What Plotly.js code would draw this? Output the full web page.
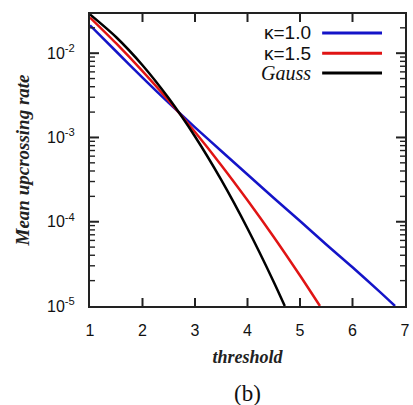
<!DOCTYPE html>
<html>
<head>
<meta charset="utf-8">
<script src="https://cdn.plot.ly/plotly-3.0.1.min.js"></script>
<style>html,body{margin:0;padding:0;background:#fff;}#chart{width:413px;height:405px;}</style>
</head>
<body>
<div id="chart"></div>
<script>
// threshold values and mean upcrossing rates
var xKappa10 = [1, 1.5, 2, 2.5, 3, 3.5, 4, 4.5, 5, 5.5, 6, 6.5, 6.81];
var yKappa10 = [0.0214, 0.01047, 0.00513, 0.00257, 0.00132, 6.9e-4, 3.63e-4, 1.91e-4, 1.02e-4, 5.37e-5, 2.88e-5, 1.51e-5, 1.0e-5];

var xKappa15 = [1, 1.5, 2, 2.5, 3, 3.5, 4, 4.5, 5, 5.38];
var yKappa15 = [0.0265, 0.01304, 0.00612, 0.00273, 0.001159, 4.69e-4, 1.80e-4, 6.6e-5, 2.30e-5, 1.0e-5];

var xGauss = [1, 1.5, 2, 2.5, 3, 3.5, 4, 4.5, 4.71];
var yGauss = [0.0288, 0.01545, 0.00719, 0.00291, 0.001025, 3.13e-4, 8.3e-5, 1.93e-5, 1.0e-5];

var seriesNames = ['κ=1.0', 'κ=1.5', 'Gauss'];
var seriesColors = ['#1414c8', '#e01414', '#000000'];
var xTickVals = [1, 2, 3, 4, 5, 6, 7];
var yMajorVals = [1e-5, 1e-4, 1e-3, 1e-2];
var yMajorText = ['10<sup>-5</sup>', '10<sup>-4</sup>', '10<sup>-3</sup>', '10<sup>-2</sup>'];

var W = 413, H = 405, M = {l: 90, r: 8, t: 14, b: 99};
var xRange = [1, 7];
var yRange = [-5, -1.535];
var yMinorVals = [];
yMajorVals.forEach(function (d) {
  for (var k = 2; k <= 9; k++) {
    var v = k * d;
    if (Math.log10(v) <= yRange[1]) yMinorVals.push(v);
  }
});

var sans = 'Liberation Sans, Arial, sans-serif';
var serif = 'Liberation Serif, Times New Roman, serif';
var axisCol = '#222222';

var xs = [xKappa10, xKappa15, xGauss];
var ys = [yKappa10, yKappa15, yGauss];
var traces = xs.map(function (x, i) {
  return {
    x: x, y: ys[i], type: 'scatter', mode: 'lines', name: seriesNames[i],
    line: {color: seriesColors[i], width: 2.5, shape: 'spline', smoothing: 0.8},
    showlegend: false
  };
});

// inside tick marks on all four sides, as line traces built from the tick arrays
var pxPerX = (W - M.l - M.r) / (xRange[1] - xRange[0]);
var pxPerDec = (H - M.t - M.b) / (yRange[1] - yRange[0]);
function xLen(px) { return px / pxPerX; }
function yFac(px) { return Math.pow(10, px / pxPerDec); }
var yLo = Math.pow(10, yRange[0]), yHi = Math.pow(10, yRange[1]);

function tickTrace(tx, ty, w) {
  return {x: tx, y: ty, type: 'scatter', mode: 'lines', showlegend: false, hoverinfo: 'skip',
    line: {color: axisCol, width: w}, cliponaxis: false};
}
var mx = [], my = [];
xTickVals.slice(1, -1).forEach(function (v) {
  mx.push(v, v, null, v, v, null);
  my.push(yLo, yLo * yFac(8), null, yHi, yHi / yFac(8), null);
});
yMajorVals.slice(1).forEach(function (v) {
  mx.push(xRange[0], xRange[0] + xLen(9), null, xRange[1], xRange[1] - xLen(9), null);
  my.push(v, v, null, v, v, null);
});
var nx = [], ny = [];
yMinorVals.forEach(function (v) {
  nx.push(xRange[0], xRange[0] + xLen(5), null, xRange[1], xRange[1] - xLen(5), null);
  ny.push(v, v, null, v, v, null);
});
traces.push(tickTrace(mx, my, 2));
traces.push(tickTrace(nx, ny, 1.4));

// manual legend: text on the left, line sample on the right
var legY = [0.935, 0.866, 0.798];
var annotations = [];
var shapes = [];
seriesNames.forEach(function (n, i) {
  var isGauss = n === 'Gauss';
  annotations.push({
    xref: 'paper', yref: 'paper', x: 0.708, y: legY[i],
    xanchor: 'right', yanchor: 'middle', showarrow: false,
    text: isGauss ? '<i>' + n + '</i>' : n,
    font: {family: isGauss ? serif : sans, size: isGauss ? 20 : 19, color: '#111'}
  });
  shapes.push({
    type: 'line', xref: 'paper', yref: 'paper',
    x0: 0.737, x1: 0.927, y0: legY[i], y1: legY[i],
    line: {color: seriesColors[i], width: 3}
  });
});
annotations.push({
  xref: 'paper', yref: 'paper', x: 0.5, y: -0.30,
  xanchor: 'center', yanchor: 'middle', showarrow: false,
  text: '(b)', font: {family: serif, size: 23, color: '#111'}
});

var layout = {
  width: W, height: H,
  margin: M,
  paper_bgcolor: '#fff', plot_bgcolor: '#fff',
  xaxis: {
    range: xRange, tickvals: xTickVals, ticks: '',
    showline: true, linecolor: axisCol, linewidth: 2, mirror: true,
    showgrid: false, zeroline: false, ticklabelstandoff: 9,
    tickfont: {family: sans, size: 16, color: '#111'},
    title: {text: '<b><i>threshold</i></b>', font: {family: serif, size: 18, color: '#222'}, standoff: 12}
  },
  yaxis: {
    type: 'log', range: yRange, tickvals: yMajorVals, ticktext: yMajorText, ticks: '',
    showline: true, linecolor: axisCol, linewidth: 2, mirror: true,
    showgrid: false, zeroline: false, ticklabelstandoff: 10,
    tickfont: {family: sans, size: 16, color: '#111'},
    title: {text: '<b><i>Mean upcrossing rate</i></b>', font: {family: serif, size: 19, color: '#222'}, standoff: 12}
  },
  annotations: annotations,
  shapes: shapes
};

Plotly.newPlot('chart', traces, layout, {staticPlot: true, displayModeBar: false});
</script>
</body>
</html>
